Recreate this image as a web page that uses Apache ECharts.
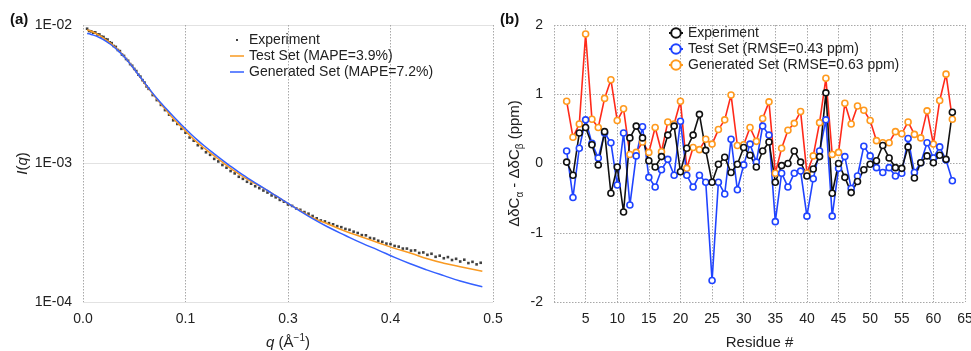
<!DOCTYPE html>
<html>
<head>
<meta charset="utf-8">
<script src="https://cdn.jsdelivr.net/npm/echarts@6/dist/echarts.min.js"></script>
<style>
  html, body { margin: 0; padding: 0; background: #fff; }
  #wrap { position: relative; width: 971px; height: 351px; overflow: hidden; }
  #chartA { position: absolute; left: 0; top: 0; width: 510px; height: 351px; }
  #chartB { position: absolute; left: 490px; top: 0; width: 481px; height: 351px; }
</style>
</head>
<body>
<div id="wrap">
  <div id="chartA"></div>
  <div id="chartB"></div>
</div>
<script>
// ---- panel (a): SAXS profile ----
const fitQ = [0.005, 0.01, 0.02, 0.03, 0.04, 0.05, 0.06, 0.07, 0.08, 0.09,
  0.10, 0.11, 0.12, 0.13, 0.14, 0.15, 0.16, 0.17,
  0.18, 0.19, 0.20, 0.21, 0.22, 0.23, 0.24, 0.25, 0.26,
  0.28, 0.30, 0.32, 0.34, 0.36, 0.38, 0.40, 0.42, 0.44, 0.46, 0.487];
const testSetI = [9.20e-3, 9.02e-3, 8.41e-3, 7.67e-3, 6.84e-3, 5.96e-3, 5.01e-3, 4.17e-3, 3.47e-3, 2.92e-3,
  2.48e-3, 2.11e-3, 1.84e-3, 1.60e-3, 1.41e-3, 1.26e-3, 1.135e-3, 1.023e-3,
  9.23e-4, 8.41e-4, 7.71e-4, 7.16e-4, 6.64e-4, 6.10e-4, 5.60e-4, 5.13e-4, 4.76e-4,
  4.07e-4, 3.63e-4, 3.24e-4, 2.95e-4, 2.68e-4, 2.44e-4, 2.25e-4, 2.05e-4, 1.905e-4, 1.80e-4, 1.667e-4];
const genSetI = [8.67e-3, 8.55e-3, 8.13e-3, 7.50e-3, 6.76e-3, 5.92e-3, 5.01e-3, 4.19e-3, 3.51e-3, 2.96e-3,
  2.54e-3, 2.19e-3, 1.905e-3, 1.667e-3, 1.47e-3, 1.31e-3, 1.175e-3, 1.057e-3,
  9.55e-4, 8.67e-4, 7.91e-4, 7.24e-4, 6.67e-4, 6.12e-4, 5.62e-4, 5.15e-4, 4.73e-4,
  4.00e-4, 3.45e-4, 3.02e-4, 2.66e-4, 2.37e-4, 2.10e-4, 1.88e-4, 1.70e-4, 1.55e-4, 1.42e-4, 1.29e-4];

const expQ = [0.005, 0.0075, 0.01, 0.0125, 0.015, 0.0175, 0.02, 0.0225, 0.025, 0.0275,
  0.03, 0.0325, 0.035, 0.0375, 0.04, 0.0425, 0.045, 0.0475, 0.05, 0.0525,
  0.055, 0.0575, 0.06, 0.0625, 0.065, 0.0675, 0.07, 0.0725, 0.075, 0.0775, 0.08,
  0.085, 0.09, 0.095, 0.10, 0.105, 0.11, 0.115, 0.12, 0.125, 0.13,
  0.135, 0.14, 0.145, 0.15, 0.155, 0.16, 0.165, 0.17, 0.175, 0.18,
  0.185, 0.19, 0.195, 0.20, 0.205, 0.21, 0.215, 0.22, 0.225, 0.23,
  0.235, 0.24, 0.245, 0.25, 0.255, 0.26, 0.265, 0.27, 0.275, 0.28,
  0.285, 0.29, 0.295, 0.30, 0.305, 0.31, 0.315, 0.32, 0.325, 0.33,
  0.335, 0.34, 0.345, 0.35, 0.355, 0.36, 0.365, 0.37, 0.375, 0.38,
  0.385, 0.39, 0.395, 0.40, 0.405, 0.41, 0.415, 0.42, 0.425, 0.43,
  0.435, 0.44, 0.445, 0.45, 0.455, 0.46, 0.465, 0.47, 0.475, 0.48, 0.485];
const expI = [9.40e-3, 9.05e-3, 9.00e-3, 8.80e-3, 8.85e-3, 8.55e-3, 8.55e-3, 8.25e-3, 8.20e-3, 7.90e-3,
  7.85e-3, 7.50e-3, 7.40e-3, 7.05e-3, 6.95e-3, 6.60e-3, 6.48e-3, 6.12e-3, 5.98e-3, 5.68e-3,
  5.52e-3, 5.22e-3, 5.08e-3, 4.82e-3, 4.65e-3, 4.38e-3, 4.24e-3, 4.00e-3, 3.84e-3, 3.60e-3, 3.46e-3,
  3.12e-3, 2.87e-3, 2.65e-3, 2.43e-3, 2.25e-3, 2.05e-3, 1.93e-3, 1.78e-3, 1.67e-3, 1.54e-3,
  1.46e-3, 1.355e-3, 1.29e-3, 1.205e-3, 1.155e-3, 1.08e-3, 1.035e-3, 9.75e-4, 9.32e-4, 8.82e-4,
  8.48e-4, 8.02e-4, 7.75e-4, 7.38e-4, 7.15e-4, 6.85e-4, 6.64e-4, 6.38e-4, 6.17e-4, 5.88e-4,
  5.70e-4, 5.46e-4, 5.30e-4, 5.06e-4, 4.94e-4, 4.74e-4, 4.63e-4, 4.46e-4, 4.34e-4, 4.18e-4,
  4.02e-4, 3.88e-4, 3.82e-4, 3.71e-4, 3.64e-4, 3.53e-4, 3.47e-4, 3.37e-4, 3.32e-4, 3.22e-4,
  3.15e-4, 3.04e-4, 3.03e-4, 2.90e-4, 2.87e-4, 2.77e-4, 2.72e-4, 2.64e-4, 2.62e-4, 2.54e-4,
  2.51e-4, 2.43e-4, 2.43e-4, 2.35e-4, 2.36e-4, 2.26e-4, 2.28e-4, 2.19e-4, 2.23e-4, 2.12e-4,
  2.16e-4, 2.07e-4, 2.11e-4, 2.01e-4, 2.05e-4, 1.96e-4, 2.02e-4, 1.91e-4, 1.95e-4, 1.87e-4, 1.92e-4];

// ---- panel (b): secondary chemical shifts ----
const residues = [2, 3, 4, 5, 6, 7, 8, 9, 10, 11, 12, 13, 14, 15, 16, 17, 18, 19, 20, 21,
  22, 23, 24, 25, 26, 27, 28, 29, 30, 31, 32, 33, 34, 35, 36, 37, 38, 39, 40, 41,
  42, 43, 44, 45, 46, 47, 48, 49, 50, 51, 52, 53, 54, 55, 56, 57, 58, 59, 60, 61, 62, 63];
const expShift = [0.02, -0.17, 0.44, 0.52, 0.27, -0.02, 0.46, -0.43, -0.05, -0.70,
  0.37, 0.54, 0.37, 0.04, -0.05, 0.10, 0.41, 0.54, -0.12, 0.22,
  0.41, 0.71, 0.19, -0.27, -0.01, 0.09, -0.13, -0.01, 0.23, 0.12,
  -0.05, 0.18, 0.31, -0.27, -0.03, 0.00, 0.18, 0.02, -0.18, -0.08,
  0.10, 1.02, -0.43, 0.00, -0.20, -0.42, -0.26, -0.09, -0.01, 0.04,
  0.26, 0.08, -0.06, -0.07, 0.24, -0.21, 0.01, 0.11, 0.01, 0.12, 0.06, 0.74];
const testShift = [0.18, -0.49, 0.22, 0.63, 0.29, 0.08, 0.44, 0.30, -0.31, 0.44,
  -0.60, 0.11, 0.53, -0.20, -0.34, -0.09, 0.06, -0.17, 0.61, -0.17,
  -0.34, -0.17, -0.27, -1.69, -0.27, -0.44, 0.35, -0.38, -0.02, 0.28,
  0.02, 0.54, 0.41, -0.84, -0.14, -0.34, -0.14, -0.11, -0.76, -0.22,
  0.18, 0.63, -0.76, -0.07, 0.10, -0.36, -0.18, 0.25, 0.11, -0.06,
  -0.13, -0.06, -0.18, -0.14, 0.36, -0.13, 0.01, 0.30, 0.08, 0.24, 0.05, -0.25];
const genShift = [0.90, 0.38, 0.57, 1.87, 0.64, 0.52, 0.94, 1.21, 0.62, 0.79,
  0.13, 0.16, 0.31, 0.16, 0.52, 0.17, 0.60, 0.57, 0.90, -0.07,
  0.23, 0.20, 0.35, 0.28, 0.49, 0.63, 0.99, 0.26, 0.27, 0.52,
  0.32, 0.65, 0.89, -0.14, 0.22, 0.48, 0.58, 0.75, -0.14, 0.11,
  0.59, 1.23, 0.13, 0.16, 0.87, 0.57, 0.83, 0.77, 0.62, 0.33,
  0.30, 0.30, 0.46, 0.43, 0.60, 0.42, 0.37, 0.76, 0.28, 0.91, 1.29, 0.64];

const font = "'Liberation Sans', Arial, sans-serif";
const txt = '#222';
const dotted = { type: [1.5, 1.5], color: '#a8a8a8', width: 1 };
// legend icons: a small centred dot and a thin centred bar, each inside an empty 14x12 box
const dotIcon = 'path://M0,0L0.01,0L0,0.01ZM6,5L8,5L8,7L6,7ZM14,12L13.99,12L14,11.99Z';
const barIcon = 'path://M0,0L0.01,0L0,0.01ZM0,5.25L14,5.25L14,6.75L0,6.75ZM14,12L13.99,12L14,11.99Z';

const chartA = echarts.init(document.getElementById('chartA'));
chartA.setOption({
  animation: false,
  textStyle: { fontFamily: font },
  title: {
    text: '(a)', left: 10, top: 12, padding: 0,
    textStyle: { fontSize: 15, fontWeight: 'bold', color: '#111', fontFamily: font },
  },
  legend: {
    orient: 'vertical', left: 230, top: 33, padding: 0,
    itemWidth: 14, itemHeight: 12, itemGap: 2,
    selectedMode: false,
    textStyle: { fontSize: 14, color: txt, fontFamily: font },
    data: [
      { name: 'Experiment', icon: dotIcon },
      { name: 'Test Set (MAPE=3.9%)', icon: barIcon },
      { name: 'Generated Set (MAPE=7.2%)', icon: barIcon },
    ],
  },
  grid: { left: 83, top: 25, width: 410, height: 277, outerBoundsMode: 'none' },
  xAxis: {
    type: 'value', min: 0, max: 0.5, interval: 0.125,
    axisLine: { show: false },
    axisTick: { show: false },
    axisLabel: {
      fontSize: 14, color: txt, margin: 10, fontFamily: font,
      formatter: (v) => v.toFixed(1),
    },
    splitLine: { show: true, lineStyle: dotted },
    name: '{i|q} (Å{sup|−1})',
    nameLocation: 'middle', nameGap: 31,
    nameTextStyle: {
      fontSize: 15, color: txt, fontFamily: font,
      rich: {
        i: { fontSize: 15, fontStyle: 'italic', color: txt, fontFamily: font, lineHeight: 20 },
        sup: { fontSize: 10, color: txt, fontFamily: font, lineHeight: 10, verticalAlign: 'top' },
      },
    },
  },
  yAxis: {
    type: 'log', logBase: 10, min: 1e-4, max: 1e-2,
    axisLine: { show: false },
    axisTick: { show: false },
    axisLabel: {
      fontSize: 14, color: txt, margin: 11, fontFamily: font,
      formatter: (v) => '1E-0' + Math.round(-Math.log10(v)),
    },
    splitLine: { show: true, lineStyle: { color: '#e2e2e2', width: 1 } },
    name: '{i|I}({i|q})',
    nameLocation: 'middle', nameGap: 53, nameRotate: 90, nameMoveOverlap: false,
    nameTextStyle: {
      fontSize: 15, color: txt, fontFamily: font,
      rich: { i: { fontSize: 15, fontStyle: 'italic', color: txt, fontFamily: font } },
    },
  },
  series: [
    {
      name: 'Test Set (MAPE=3.9%)', type: 'line', smooth: true,
      symbol: 'none', showSymbol: false,
      lineStyle: { color: '#f99a22', width: 1.5 },
      itemStyle: { color: '#f99a22' },
      data: fitQ.map((q, i) => [q, testSetI[i]]),
    },
    {
      name: 'Generated Set (MAPE=7.2%)', type: 'line', smooth: true,
      symbol: 'none', showSymbol: false,
      lineStyle: { color: '#3460ff', width: 1.5 },
      itemStyle: { color: '#3460ff' },
      data: fitQ.map((q, i) => [q, genSetI[i]]),
    },
    {
      name: 'Experiment', type: 'scatter', symbol: 'rect', symbolSize: 2.6,
      itemStyle: { color: '#111' },
      data: expQ.map((q, i) => [q, expI[i]]),
    },
  ],
});

const chartB = echarts.init(document.getElementById('chartB'));
const marker = (border) => ({ color: '#fff', borderColor: border, borderWidth: 1.6 });
chartB.setOption({
  animation: false,
  textStyle: { fontFamily: font },
  title: {
    text: '(b)', left: 10, top: 12, padding: 0,
    textStyle: { fontSize: 15, fontWeight: 'bold', color: '#111', fontFamily: font },
  },
  legend: {
    orient: 'vertical', left: 178, top: 26, padding: 0,
    itemWidth: 14, itemHeight: 12, itemGap: 2,
    selectedMode: false,
    textStyle: { fontSize: 14, color: txt, fontFamily: font },
    data: [
      'Experiment',
      'Test Set (RMSE=0.43 ppm)',
      { name: 'Generated Set (RMSE=0.63 ppm)', lineStyle: { color: '#ff9a1e' } },
    ],
  },
  grid: { left: 64, top: 25, width: 411, height: 277, outerBoundsMode: 'none' },
  xAxis: {
    type: 'value', min: 0, max: 65, interval: 5,
    axisLine: { show: false },
    axisTick: { show: false },
    axisLabel: {
      fontSize: 14, color: txt, margin: 10, fontFamily: font,
      formatter: (v) => (v === 0 ? '' : String(v)),
    },
    splitLine: { show: true, lineStyle: dotted },
    name: 'Residue #',
    nameLocation: 'middle', nameGap: 33,
    nameTextStyle: { fontSize: 15, color: txt, fontFamily: font },
  },
  yAxis: {
    type: 'value', min: -2, max: 2, interval: 1,
    axisLine: { show: false },
    axisTick: { show: false },
    axisLabel: { fontSize: 14, color: txt, margin: 11, fontFamily: font },
    splitLine: { show: true, lineStyle: dotted },
    name: 'ΔδC{sub|α} - ΔδC{sub|β} (ppm)',
    nameLocation: 'middle', nameGap: 29, nameRotate: 90, nameMoveOverlap: false,
    nameTextStyle: {
      fontSize: 15, color: txt, fontFamily: font, lineHeight: 20,
      rich: {
        sub: { fontSize: 10, color: txt, fontFamily: font, lineHeight: 10, verticalAlign: 'bottom' },
      },
    },
  },
  series: [
    {
      name: 'Generated Set (RMSE=0.63 ppm)', type: 'line',
      symbol: 'circle', symbolSize: 6,
      lineStyle: { color: '#ff2a1a', width: 1.6 },
      itemStyle: marker('#ff9a1e'),
      data: residues.map((r, i) => [r, genShift[i]]),
    },
    {
      name: 'Test Set (RMSE=0.43 ppm)', type: 'line',
      symbol: 'circle', symbolSize: 6,
      lineStyle: { color: '#1f43ff', width: 1.6 },
      itemStyle: marker('#1f43ff'),
      data: residues.map((r, i) => [r, testShift[i]]),
    },
    {
      name: 'Experiment', type: 'line',
      symbol: 'circle', symbolSize: 6,
      lineStyle: { color: '#111', width: 1.6 },
      itemStyle: marker('#111'),
      data: residues.map((r, i) => [r, expShift[i]]),
    },
  ],
});
</script>
</body>
</html>
